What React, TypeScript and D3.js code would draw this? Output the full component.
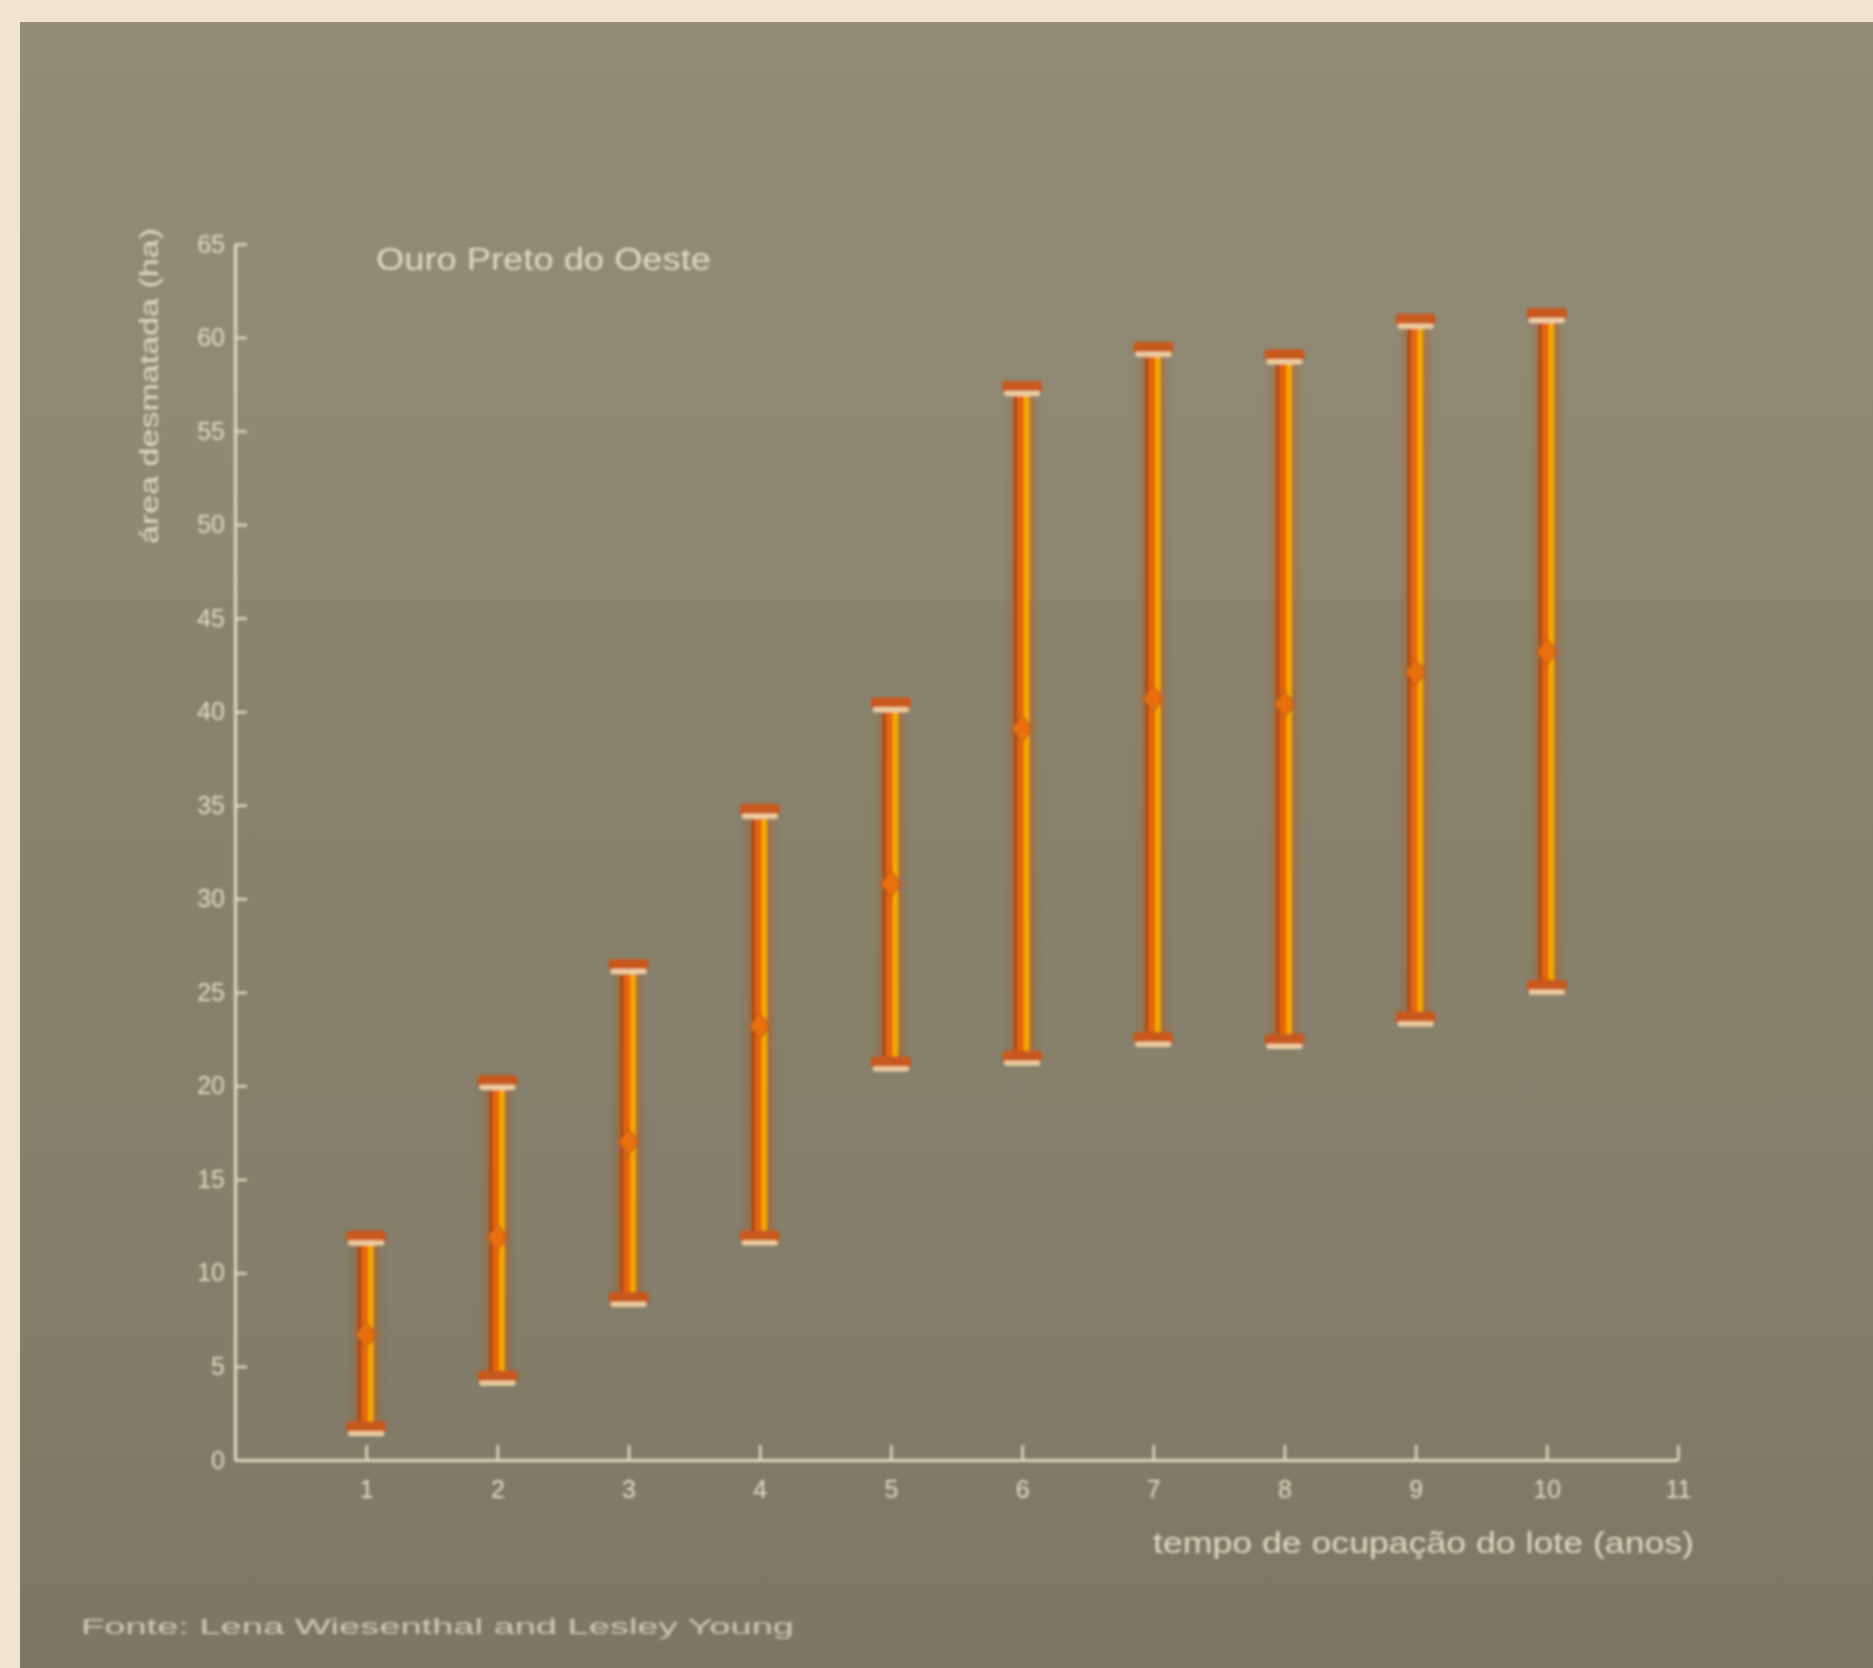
import React, { useEffect, useRef } from "react";
import * as d3 from "d3";

// years of occupation (x) and cleared area range per year (y)
const years = [1, 2, 3, 4, 5, 6, 7, 8, 9, 10];
const lowValues = [1.7, 4.4, 8.6, 11.9, 21.2, 21.5, 22.5, 22.4, 23.6, 25.3];
const meanValues = [6.7, 11.9, 17.0, 23.2, 30.8, 39.1, 40.7, 40.4, 42.1, 43.2];
const highValues = [11.9, 20.2, 26.4, 34.7, 40.4, 57.3, 59.4, 59.0, 60.9, 61.2];

const xTicks = [1, 2, 3, 4, 5, 6, 7, 8, 9, 10, 11];
const yTicks = [0, 5, 10, 15, 20, 25, 30, 35, 40, 45, 50, 55, 60, 65];

const titleText = "Ouro Preto do Oeste";
const xLabel = "tempo de ocupação do lote (anos)";
const yLabel = "área desmatada (ha)";
const sourceText = "Fonte: Lena Wiesenthal and Lesley Young";

const W = 1873;
const H = 1668;
const FONT = "'Liberation Sans', Arial, Helvetica, sans-serif";
const INK = "#e2dcc6";

const App = () => {
	const ref = useRef<SVGSVGElement>(null);

	useEffect(() => {
		const svg = d3.select(ref.current);
		svg.selectAll("*").remove();

		const x = d3.scaleLinear().domain([0, 11]).range([235, 1678]);
		const y = d3.scaleLinear().domain([0, 65]).range([1460, 244]);

		const defs = svg.append("defs");
		const bg = defs
			.append("linearGradient")
			.attr("id", "bg")
			.attr("x1", 0)
			.attr("y1", 0)
			.attr("x2", 0)
			.attr("y2", 1);
		[
			["0%", "#928c77"],
			["35%", "#8e8873"],
			["35.2%", "#8a846f"],
			["75%", "#847e6a"],
			["100%", "#7d7664"],
		].forEach(([o, c]) => bg.append("stop").attr("offset", o).attr("stop-color", c));

		defs.append("filter")
			.attr("id", "soft")
			.append("feGaussianBlur")
			.attr("stdDeviation", 1.5);
		defs.append("filter")
			.attr("id", "glow")
			.attr("x", "-50%")
			.attr("width", "200%")
			.append("feGaussianBlur")
			.attr("stdDeviation", 3);
		defs.append("filter")
			.attr("id", "haze")
			.append("feGaussianBlur")
			.attr("stdDeviation", 4);

		// paper edge + photo background
		svg.append("rect").attr("width", W).attr("height", H).attr("fill", "#efe4cf");
		svg.append("rect")
			.attr("x", 20)
			.attr("y", 22)
			.attr("width", W - 20)
			.attr("height", H - 22)
			.attr("fill", "url(#bg)");

		// faint legend box remnant
		svg.append("line")
			.attr("x1", 740)
			.attr("x2", 908)
			.attr("y1", 394)
			.attr("y2", 394)
			.attr("stroke", "#76706c")
			.attr("stroke-width", 6)
			.attr("opacity", 0.5)
			.attr("filter", "url(#haze)");

		const g = svg.append("g").attr("filter", "url(#soft)");

		// y axis
		const yAxis = g
			.append("g")
			.attr("transform", `translate(${x(0)},0)`)
			.call(
				d3
					.axisLeft(y)
					.tickValues(yTicks)
					.tickSize(-12)
					.tickSizeOuter(0)
					.tickPadding(10)
					.tickFormat(d3.format("d"))
			);

		// x axis
		const xAxis = g
			.append("g")
			.attr("transform", `translate(0,${y(0)})`)
			.call(
				d3
					.axisBottom(x)
					.tickValues(xTicks)
					.tickSize(-15)
					.tickSizeOuter(0)
					.tickPadding(20)
					.tickFormat(d3.format("d"))
			);

		[yAxis, xAxis].forEach((a) => {
			a.select(".domain").attr("stroke", INK).attr("stroke-width", 3);
			a.selectAll(".tick line").attr("stroke", INK).attr("stroke-width", 2.5);
			a.selectAll(".tick text")
				.attr("fill", INK)
				.attr("font-family", FONT)
				.attr("font-size", 25);
		});

		// texts
		g.append("text")
			.attr("x", 376)
			.attr("y", 270)
			.attr("fill", INK)
			.attr("font-family", FONT)
			.attr("font-size", 31)
			.attr("textLength", 335)
			.attr("lengthAdjust", "spacingAndGlyphs")
			.text(titleText);

		g.append("text")
			.attr("transform", "translate(158,386) rotate(-90)")
			.attr("text-anchor", "middle")
			.attr("fill", INK)
			.attr("font-family", FONT)
			.attr("font-size", 25)
			.attr("textLength", 316)
			.attr("lengthAdjust", "spacingAndGlyphs")
			.text(yLabel);

		g.append("text")
			.attr("x", 1153)
			.attr("y", 1553)
			.attr("fill", INK)
			.attr("font-family", FONT)
			.attr("font-size", 30)
			.attr("textLength", 541)
			.attr("lengthAdjust", "spacingAndGlyphs")
			.text(xLabel);

		g.append("text")
			.attr("x", 81)
			.attr("y", 1634)
			.attr("fill", "#d2cbb5")
			.attr("font-family", FONT)
			.attr("font-size", 22)
			.attr("textLength", 713)
			.attr("lengthAdjust", "spacingAndGlyphs")
			.text(sourceText);

		// error bars
		const data = years.map((yr, i) => ({
			yr,
			lo: lowValues[i],
			mean: meanValues[i],
			hi: highValues[i],
		}));

		const bars = g
			.selectAll(".bar")
			.data(data)
			.enter()
			.append("g")
			.attr("class", "bar")
			.attr("transform", (d) => `translate(${x(d.yr)},0)`);

		// soft halo
		bars.append("rect")
			.attr("x", -13)
			.attr("width", 26)
			.attr("y", (d) => y(d.hi))
			.attr("height", (d) => y(d.lo) - y(d.hi))
			.attr("fill", "#b8551e")
			.attr("opacity", 0.4)
			.attr("filter", "url(#glow)");

		bars.append("rect")
			.attr("x", -8)
			.attr("width", 16)
			.attr("y", (d) => y(d.hi))
			.attr("height", (d) => y(d.lo) - y(d.hi))
			.attr("fill", "#e4660e");
		bars.append("rect")
			.attr("x", -8)
			.attr("width", 3)
			.attr("y", (d) => y(d.hi))
			.attr("height", (d) => y(d.lo) - y(d.hi))
			.attr("fill", "#a9420f");
		bars.append("rect")
			.attr("x", 2)
			.attr("width", 5)
			.attr("y", (d) => y(d.hi))
			.attr("height", (d) => y(d.lo) - y(d.hi))
			.attr("fill", "#f3ae00");

		// mean marker (a small bulge on the bar)
		bars.append("path")
			.attr("d", (d) => {
				const c = y(d.mean);
				return `M0,${c - 14} L10,${c} L0,${c + 14} L-10,${c} Z`;
			})
			.attr("fill", "#e8700e")
			.attr("stroke", "#b04a12")
			.attr("stroke-width", 1);

		// caps
		[(d) => d.hi, (d) => d.lo].forEach((acc) => {
			bars.append("rect")
				.attr("x", -20)
				.attr("width", 40)
				.attr("y", (d) => y(acc(d)) - 7)
				.attr("height", 12)
				.attr("rx", 4)
				.attr("fill", "#c9581a");
			bars.append("rect")
				.attr("x", -18)
				.attr("width", 36)
				.attr("y", (d) => y(acc(d)) + 3)
				.attr("height", 5)
				.attr("rx", 2)
				.attr("fill", "#efcfa2");
		});
	}, []);

	return (
		<svg
			ref={ref}
			width={W}
			height={H}
			style={{ position: "absolute", left: 0, top: 0 }}
		></svg>
	);
};

export default App;
